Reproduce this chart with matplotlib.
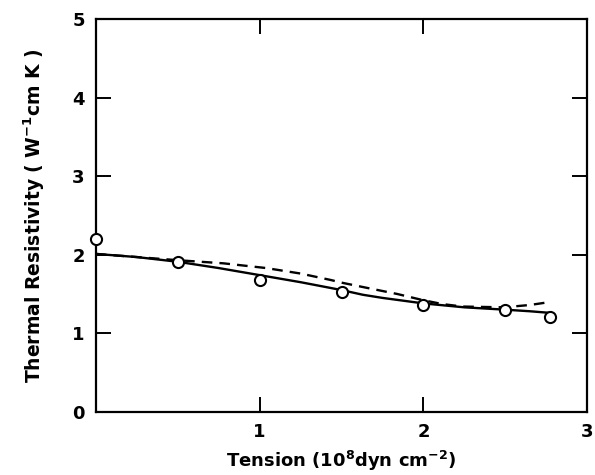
import matplotlib
matplotlib.use("Agg")
import matplotlib.pyplot as plt

# measured points (open circles)
tension = [0.0, 0.5, 1.0, 1.5, 2.0, 2.5, 2.77]
resistivity = [2.20, 1.91, 1.68, 1.52, 1.36, 1.30, 1.21]

# solid curve
solid_x = [0.0, 0.25, 0.5, 0.75, 1.0, 1.25, 1.5, 1.63, 1.75, 2.0, 2.25, 2.5, 2.65, 2.77]
solid_y = [2.01, 1.97, 1.91, 1.83, 1.74, 1.65, 1.55, 1.49, 1.45, 1.38, 1.33, 1.30, 1.28, 1.26]

# dashed curve
dash_x = [0.0, 0.25, 0.5, 0.78, 1.04, 1.25, 1.43, 1.51, 1.65, 1.84, 2.0, 2.12, 2.24, 2.49, 2.65, 2.78]
dash_y = [2.01, 1.97, 1.93, 1.89, 1.83, 1.76, 1.68, 1.64, 1.58, 1.50, 1.42, 1.37, 1.34, 1.33, 1.36, 1.40]

plt.rcParams['font.family'] = 'DejaVu Sans'
plt.rcParams['font.weight'] = 'bold'

fig = plt.figure(figsize=(5.95, 4.75), dpi=100)
ax = fig.add_axes([0.161, 0.133, 0.826, 0.827])

ax.plot(solid_x, solid_y, color='black', lw=1.7, zorder=2)
ax.plot(dash_x, dash_y, color='black', lw=1.7, ls=(0, (4.5, 3)), zorder=2)
ax.plot(tension, resistivity, 'o', ms=8, mfc='white', mec='black', mew=1.5,
        clip_on=False, zorder=3)

ax.set_xlim(0, 3)
ax.set_ylim(0, 5)
ax.set_xticks([1, 2, 3])
ax.set_yticks([0, 1, 2, 3, 4, 5])
ax.tick_params(direction='in', length=11, width=1.4, top=True, right=True,
               labelsize=13, pad=8)
for s in ax.spines.values():
    s.set_linewidth(1.6)

ax.set_xlabel('Tension (10$^{\\mathbf{8}}$dyn cm$^{\\mathbf{-2}}$)', fontsize=13,
              fontweight='bold', labelpad=6)
ax.set_ylabel('Thermal Resistivity ( W$^{\\mathbf{-1}}$cm K )', fontsize=13.5,
              fontweight='bold', labelpad=18)

fig.savefig('out.png', dpi=100)
